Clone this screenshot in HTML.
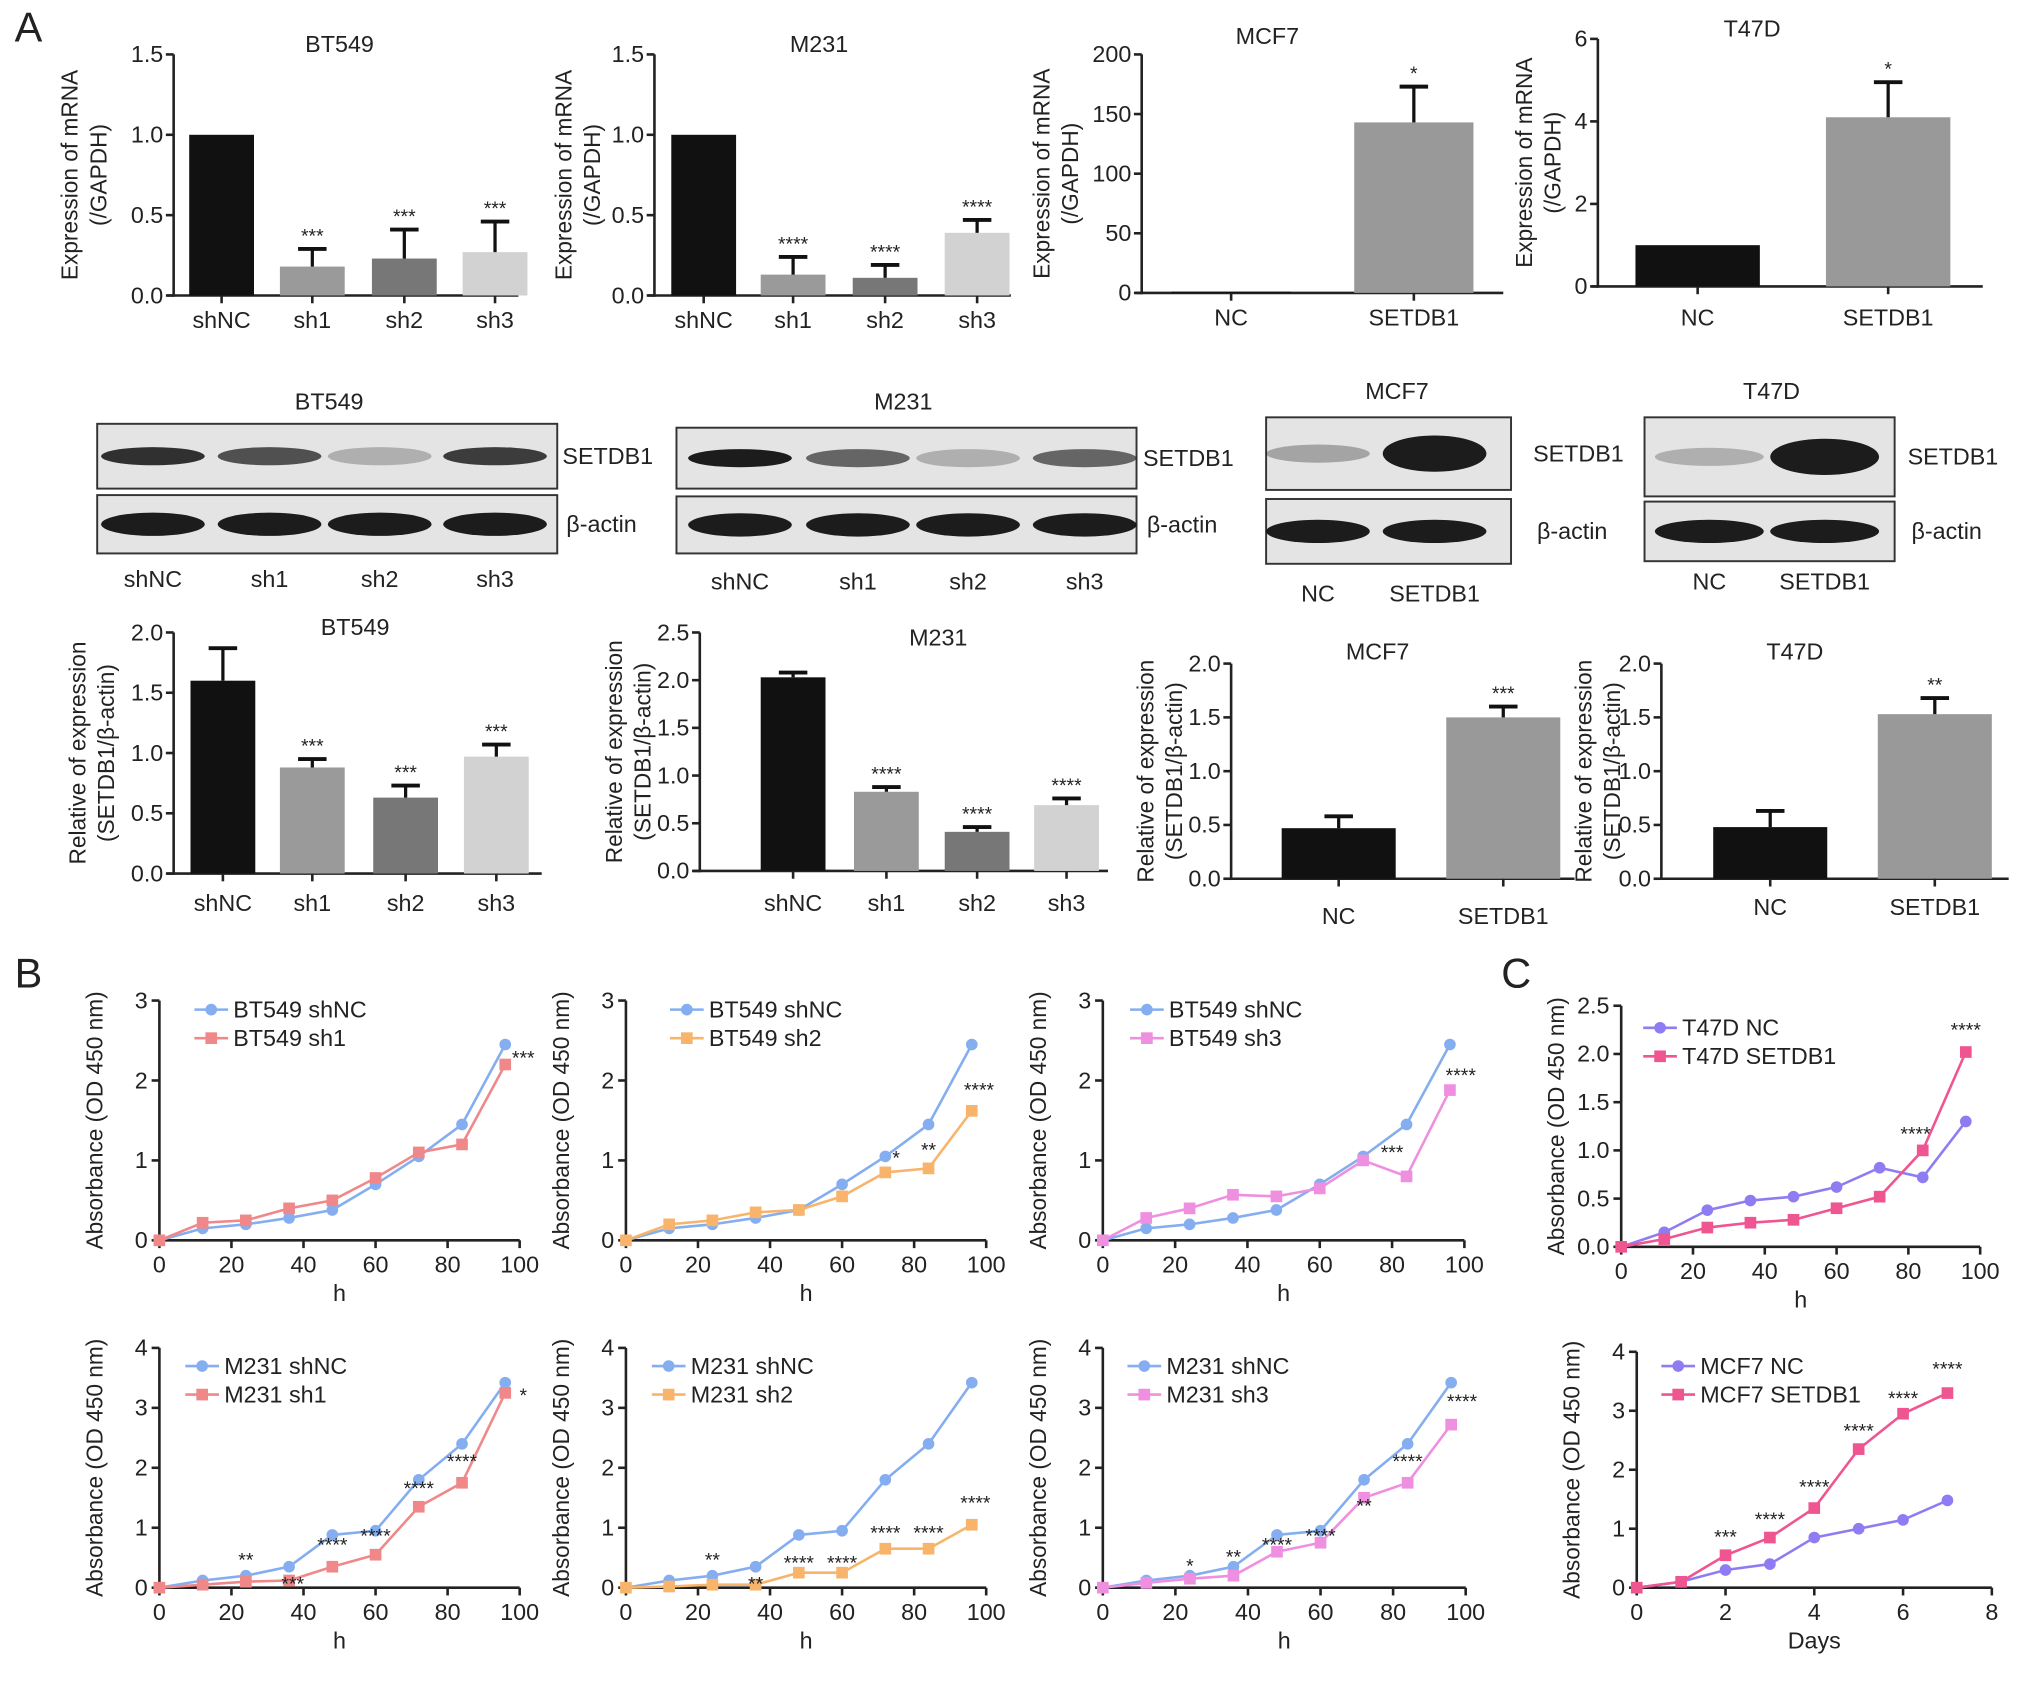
<!DOCTYPE html>
<html><head><meta charset="utf-8"><style>
html,body{margin:0;padding:0;background:#fff}
svg{display:block;font-family:"Liberation Sans",sans-serif}
</style></head><body>
<svg id="fig" width="2032" height="1681" viewBox="0 0 1568 1297" preserveAspectRatio="none" xmlns="http://www.w3.org/2000/svg"></svg>
<script>
// ---- data ----
const shCats=["shNC","sh1","sh2","sh3"];
const ovCats=["NC","SETDB1"];
const grayCols=["#111","#9a9a9a","#777","#d2d2d2"];
const mrnaBT=[1.0,0.18,0.23,0.27], mrnaBTerr=[0,0.11,0.18,0.19];
const mrnaM231=[1.0,0.13,0.11,0.39], mrnaM231err=[0,0.11,0.08,0.08];
const mrnaMCF7=[1,143], mrnaMCF7err=[0,30];
const mrnaT47D=[1,4.1], mrnaT47Derr=[0,0.85];
const protBT=[1.6,0.88,0.63,0.97], protBTerr=[0.27,0.07,0.1,0.1];
const protM231=[2.03,0.83,0.41,0.69], protM231err=[0.05,0.05,0.05,0.07];
const protMCF7=[0.47,1.5], protMCF7err=[0.11,0.1];
const protT47D=[0.48,1.53], protT47Derr=[0.15,0.15];
const hours=[0,12,24,36,48,60,72,84,96];
const btShNC=[0,0.15,0.2,0.28,0.38,0.7,1.05,1.45,2.45];
const btSh1=[0,0.22,0.25,0.4,0.5,0.78,1.1,1.2,2.2];
const btSh2=[0,0.2,0.25,0.35,0.38,0.55,0.85,0.9,1.62];
const btSh3=[0,0.28,0.4,0.57,0.55,0.65,1.0,0.8,1.88];
const mShNC=[0,0.12,0.2,0.35,0.88,0.95,1.8,2.4,3.42];
const mSh1=[0,0.05,0.1,0.12,0.35,0.55,1.35,1.75,3.25];
const mSh2=[0,0.02,0.05,0.05,0.25,0.25,0.65,0.65,1.05];
const mSh3=[0,0.08,0.15,0.2,0.6,0.75,1.5,1.75,2.72];
const tNC=[0,0.15,0.38,0.48,0.52,0.62,0.82,0.72,1.3];
const tSET=[0,0.08,0.2,0.25,0.28,0.4,0.52,1.0,2.02];
const days=[0,1,2,3,4,5,6,7];
const mcfNC=[0,0.1,0.3,0.4,0.85,1.0,1.15,1.48];
const mcfSET=[0,0.1,0.55,0.85,1.35,2.35,2.95,3.3];

const S=document.getElementById('fig');const NS="http://www.w3.org/2000/svg";
function el(tag,attrs,parent,text){const e=document.createElementNS(NS,tag);for(const k in attrs)e.setAttribute(k,attrs[k]);if(text!=null)e.textContent=text;(parent||S).appendChild(e);return e;}
function txt(x,y,s,size,name,opt){opt=opt||{};const t=el('text',{x:x,y:y,'font-size':size,'text-anchor':opt.anchor||'middle',fill:'#222'},opt.g,s);
if(opt.rot)t.setAttribute('transform','rotate(-90 '+x+' '+y+')');

return t;}
function line(x1,y1,x2,y2,w,c,g){return el('line',{x1,y1,x2,y2,stroke:c||'#222','stroke-width':w||2},g);}

function barChart(o){
 const g=el('g',{});
 
 
 const y=v=>o.y0-(v-0)/(o.ymax)*(o.y0-o.ytop);
 line(o.ax,o.ytop,o.ax,o.y0+1,2,'#222',g);
 line(o.ax-5,o.y0,o.xend,o.y0,2,'#222',g);
 o.ticks.forEach((t,i)=>{const yy=y(t);line(o.ax-6,yy,o.ax,yy,2,'#222',g);txt(o.ax-8,yy+6,o.tickLabels[i],18,'y-tick-label',{anchor:'end',g});});
 o.vals.forEach((v,i)=>{const cx=o.cx[i];
  const r=el('rect',{x:cx-o.bw/2,y:y(v),width:o.bw,height:o.y0-y(v),fill:o.cols[i]},g);
  
  
  line(cx,o.y0,cx,o.y0+6,2,'#222',g);
  const e=o.err[i];
  if(e>0){line(cx,y(v),cx,y(v+e),2.5,'#111',g);line(cx-11,y(v+e),cx+11,y(v+e),3,'#111',g);}
  if(o.stars[i])txt(cx,y(v+e)-5,o.stars[i],15,'significance-stars',{g});
  txt(cx,o.xly,o.cats[i],18,'x-tick-label',{g});
 });
 txt(o.tx,o.ty,o.title,18,'chart-title',{g});
 txt(o.yl1,(o.ytop+o.y0)/2,o.ylab[0],17.5,'y-axis-title',{rot:1,g});
 txt(o.yl2,(o.ytop+o.y0)/2,o.ylab[1],17.5,'y-axis-title',{rot:1,g});
}
const mr=["Expression of mRNA","(/GAPDH)"], pr=["Relative of expression","(SETDB1/β-actin)"];
barChart({name:'mrna-bt549',ax:134,ytop:42,y0:228,ymax:1.5,ticks:[0,0.5,1,1.5],tickLabels:["0.0","0.5","1.0","1.5"],xend:400,cx:[171,241,312,382],bw:50,vals:mrnaBT,err:mrnaBTerr,cats:shCats,cols:grayCols,stars:["","***","***","***"],xly:253,title:"BT549",tx:262,ty:40,ylab:mr,yl1:60,yl2:82});
barChart({name:'mrna-m231',ax:505,ytop:42,y0:228,ymax:1.5,ticks:[0,0.5,1,1.5],tickLabels:["0.0","0.5","1.0","1.5"],xend:780,cx:[543,612,683,754],bw:50,vals:mrnaM231,err:mrnaM231err,cats:shCats,cols:grayCols,stars:["","****","****","****"],xly:253,title:"M231",tx:632,ty:40,ylab:mr,yl1:441,yl2:463});
barChart({name:'mrna-mcf7',ax:881,ytop:42,y0:226,ymax:200,ticks:[0,50,100,150,200],tickLabels:["0","50","100","150","200"],xend:1160,cx:[950,1091],bw:92,vals:mrnaMCF7,err:mrnaMCF7err,cats:ovCats,cols:["#111","#999"],stars:["","*"],xly:251,title:"MCF7",tx:978,ty:34,ylab:mr,yl1:810,yl2:832});
barChart({name:'mrna-t47d',ax:1233,ytop:30,y0:221,ymax:6,ticks:[0,2,4,6],tickLabels:["0","2","4","6"],xend:1530,cx:[1310,1457],bw:96,vals:mrnaT47D,err:mrnaT47Derr,cats:ovCats,cols:["#111","#999"],stars:["","*"],xly:251,title:"T47D",tx:1352,ty:28,ylab:mr,yl1:1182,yl2:1204});
barChart({name:'protein-bt549',ax:134,ytop:488,y0:674,ymax:2,ticks:[0,0.5,1,1.5,2],tickLabels:["0.0","0.5","1.0","1.5","2.0"],xend:418,cx:[172,241,313,383],bw:50,vals:protBT,err:protBTerr,cats:shCats,cols:grayCols,stars:["","***","***","***"],xly:703,title:"BT549",tx:274,ty:490,ylab:pr,yl1:66,yl2:88});
barChart({name:'protein-m231',ax:540,ytop:488,y0:672,ymax:2.5,ticks:[0,0.5,1,1.5,2,2.5],tickLabels:["0.0","0.5","1.0","1.5","2.0","2.5"],xend:855,cx:[612,684,754,823],bw:50,vals:protM231,err:protM231err,cats:shCats,cols:grayCols,stars:["","****","****","****"],xly:703,title:"M231",tx:724,ty:498,ylab:pr,yl1:480,yl2:502});
barChart({name:'protein-mcf7',ax:950,ytop:512,y0:678,ymax:2,ticks:[0,0.5,1,1.5,2],tickLabels:["0.0","0.5","1.0","1.5","2.0"],xend:1215,cx:[1033,1160],bw:88,vals:protMCF7,err:protMCF7err,cats:ovCats,cols:["#111","#999"],stars:["","***"],xly:713,title:"MCF7",tx:1063,ty:509,ylab:pr,yl1:890,yl2:912});
barChart({name:'protein-t47d',ax:1282,ytop:512,y0:678,ymax:2,ticks:[0,0.5,1,1.5,2],tickLabels:["0.0","0.5","1.0","1.5","2.0"],xend:1550,cx:[1366,1493],bw:88,vals:protT47D,err:protT47Derr,cats:ovCats,cols:["#111","#999"],stars:["","**"],xly:706,title:"T47D",tx:1385,ty:509,ylab:pr,yl1:1228,yl2:1250});

// ---- western blots ----
function blot(o){
 const g=el('g',{});
 [[o.r1,o.int1,'setdb1'],[o.r2,o.int2,'actin']].forEach(([r,ints,n])=>{
  el('rect',{x:o.x0,y:r[0],width:o.x1-o.x0,height:r[1]-r[0],fill:'#e4e4e4',stroke:'#333','stroke-width':1.5},g);
  ints.forEach((a,i)=>{const cx=o.lanes[i],cy=(r[0]+r[1])/2;
   const b=el('ellipse',{cx:cx,cy:cy,rx:o.bw/2,ry:n=='actin'?9:(o.big&&a>0.7?14:7),fill:'#111','fill-opacity':a},g);
   });
 });
 o.lanes.forEach((cx,i)=>txt(cx,o.ly,o.labels[i],18,'lane-label',{g}));
 txt(o.tx,o.ty,o.title,18,'blot-title',{g});
 txt(o.lx,(o.r1[0]+o.r1[1])/2+6,"SETDB1",18,'protein-label',{anchor:'start',g});
 txt(o.lx+3,(o.r2[0]+o.r2[1])/2+6,"β-actin",18,'protein-label',{anchor:'start',g});
}
blot({name:'blot-bt549',x0:75,x1:430,r1:[327,377],r2:[382,427],lanes:[118,208,293,382],bw:80,int1:[0.85,0.7,0.25,0.8],int2:[0.95,0.95,0.95,0.95],labels:shCats,ly:453,title:"BT549",tx:254,ty:316,lx:434});
blot({name:'blot-m231',x0:522,x1:877,r1:[330,377],r2:[383,427],lanes:[571,662,747,837],bw:80,int1:[0.95,0.6,0.25,0.6],int2:[0.95,0.95,0.95,0.95],labels:shCats,ly:455,title:"M231",tx:697,ty:316,lx:882});
blot({name:'blot-mcf7',x0:977,x1:1166,r1:[322,378],r2:[385,435],lanes:[1017,1107],bw:80,int1:[0.3,0.95],int2:[0.95,0.95],labels:ovCats,ly:464,title:"MCF7",tx:1078,ty:308,lx:1183,big:1});
blot({name:'blot-t47d',x0:1269,x1:1462,r1:[322,383],r2:[387,433],lanes:[1319,1408],bw:84,int1:[0.25,0.95],int2:[0.95,0.95],labels:ovCats,ly:455,title:"T47D",tx:1367,ty:308,lx:1472,big:1});

// ---- line charts ----
function lineChart(o){
 const g=el('g',{});
 const X=v=>o.x0+v/o.xmax*(o.x1-o.x0), Y=v=>o.y0-v/o.ymax*(o.y0-o.ytop);
 line(o.x0,o.ytop,o.x0,o.y0,2,'#222',g);line(o.x0,o.y0,o.x1,o.y0,2,'#222',g);
 o.yt.forEach((t,i)=>{line(o.x0-6,Y(t),o.x0,Y(t),2,'#222',g);txt(o.x0-9,Y(t)+6,o.ytl?o.ytl[i]:String(t),18,'y-tick-label',{anchor:'end',g});});
 o.xt.forEach(t=>{line(X(t),o.y0,X(t),o.y0+6,2,'#222',g);txt(X(t),o.y0+25,String(t),18,'x-tick-label',{g});});
 txt((o.x0+o.x1)/2,o.y0+47,o.xlab,18,'x-axis-title',{g});
 txt(o.x0-44,(o.ytop+o.y0)/2,"Absorbance (OD 450 nm)",17.5,'y-axis-title',{rot:1,g});
 o.series.forEach((s,k)=>{
  const pts=s.vals.map((v,i)=>X(o.xs[i])+','+Y(v)).join(' ');
  const p=el('polyline',{points:pts,fill:'none',stroke:s.col,'stroke-width':2},g);
  
  s.vals.forEach((v,i)=>{let m;
   if(k==0)m=el('circle',{cx:X(o.xs[i]),cy:Y(v),r:4.5,fill:s.col},g);
   else m=el('rect',{x:X(o.xs[i])-4.5,y:Y(v)-4.5,width:9,height:9,fill:s.col},g);
   });
  const ly=o.ly+k*22;
  line(o.lx,ly,o.lx+26,ly,2,s.col,g);
  if(k==0)el('circle',{cx:o.lx+13,cy:ly,r:4.5,fill:s.col},g);else el('rect',{x:o.lx+8.5,y:ly-4.5,width:9,height:9,fill:s.col},g);
  txt(o.lx+30,ly+6,s.label,18,'legend-entry',{anchor:'start',g});
 });
 (o.stars||[]).forEach(st=>txt(X(st[0]),Y(st[1]),st[2],15,'significance-stars',{g}));
}
const B="#84aef0";
const r1={x0:123,x1:401,y0:957,ytop:772,ymax:3,yt:[0,1,2,3],xt:[0,20,40,60,80,100],xmax:100,xlab:"h",xs:hours,ly:779};
const r2={y0:1225,ytop:1040,ymax:4,yt:[0,1,2,3,4],xt:[0,20,40,60,80,100],xmax:100,xlab:"h",xs:hours,ly:1054};
lineChart(Object.assign({},r1,{name:'growth-bt549-sh1',lx:150,series:[{vals:btShNC,col:B,label:"BT549 shNC"},{vals:btSh1,col:"#f0888a",label:"BT549 sh1"}],stars:[[101,2.2,"***"]]}));
lineChart(Object.assign({},r1,{name:'growth-bt549-sh2',x0:483,x1:761,lx:517,series:[{vals:btShNC,col:B,label:"BT549 shNC"},{vals:btSh2,col:"#f7b46a",label:"BT549 sh2"}],stars:[[75,0.95,"*"],[84,1.05,"**"],[98,1.8,"****"]]}));
lineChart(Object.assign({},r1,{name:'growth-bt549-sh3',x0:851,x1:1130,lx:872,series:[{vals:btShNC,col:B,label:"BT549 shNC"},{vals:btSh3,col:"#ef8fe0",label:"BT549 sh3"}],stars:[[80,1.02,"***"],[99,1.98,"****"]]}));
lineChart(Object.assign({},r2,{name:'growth-m231-sh1',x0:123,x1:401,lx:143,series:[{vals:mShNC,col:B,label:"M231 shNC"},{vals:mSh1,col:"#f0888a",label:"M231 sh1"}],stars:[[24,0.35,"**"],[37,-0.05,"***"],[48,0.6,"****"],[60,0.75,"****"],[72,1.55,"****"],[84,2.0,"****"],[101,3.1,"*"]]}));
lineChart(Object.assign({},r2,{name:'growth-m231-sh2',x0:483,x1:761,lx:503,series:[{vals:mShNC,col:B,label:"M231 shNC"},{vals:mSh2,col:"#f7b46a",label:"M231 sh2"}],stars:[[24,0.35,"**"],[36,-0.05,"**"],[48,0.3,"****"],[60,0.3,"****"],[72,0.8,"****"],[84,0.8,"****"],[97,1.3,"****"]]}));
lineChart(Object.assign({},r2,{name:'growth-m231-sh3',x0:851,x1:1131,lx:870,series:[{vals:mShNC,col:B,label:"M231 shNC"},{vals:mSh3,col:"#ef8fe0",label:"M231 sh3"}],stars:[[24,0.25,"*"],[36,0.4,"**"],[48,0.6,"****"],[60,0.75,"****"],[72,1.25,"**"],[84,2.0,"****"],[99,3.0,"****"]]}));
lineChart({name:'growth-t47d',x0:1251,x1:1528,y0:962,ytop:776,ymax:2.5,yt:[0,0.5,1,1.5,2,2.5],ytl:["0.0","0.5","1.0","1.5","2.0","2.5"],xt:[0,20,40,60,80,100],xmax:100,xlab:"h",xs:hours,lx:1268,ly:793,series:[{vals:tNC,col:"#8e7df2",label:"T47D NC"},{vals:tSET,col:"#ef5590",label:"T47D SETDB1"}],stars:[[82,1.1,"****"],[96,2.18,"****"]]});
lineChart({name:'growth-mcf7',x0:1263,x1:1537,y0:1225,ytop:1043,ymax:4,yt:[0,1,2,3,4],xt:[0,2,4,6,8],xmax:8,xlab:"Days",xs:days,lx:1282,ly:1054,series:[{vals:mcfNC,col:"#8e7df2",label:"MCF7 NC"},{vals:mcfSET,col:"#ef5590",label:"MCF7 SETDB1"}],stars:[[2,0.75,"***"],[3,1.05,"****"],[4,1.6,"****"],[5,2.55,"****"],[6,3.1,"****"],[7,3.6,"****"]]});

// panel letters
txt(22,32,"A",32,'panel-label-a');txt(22,762,"B",32,'panel-label-b');txt(1170,762,"C",32,'panel-label-c');
</script>
</body></html>
